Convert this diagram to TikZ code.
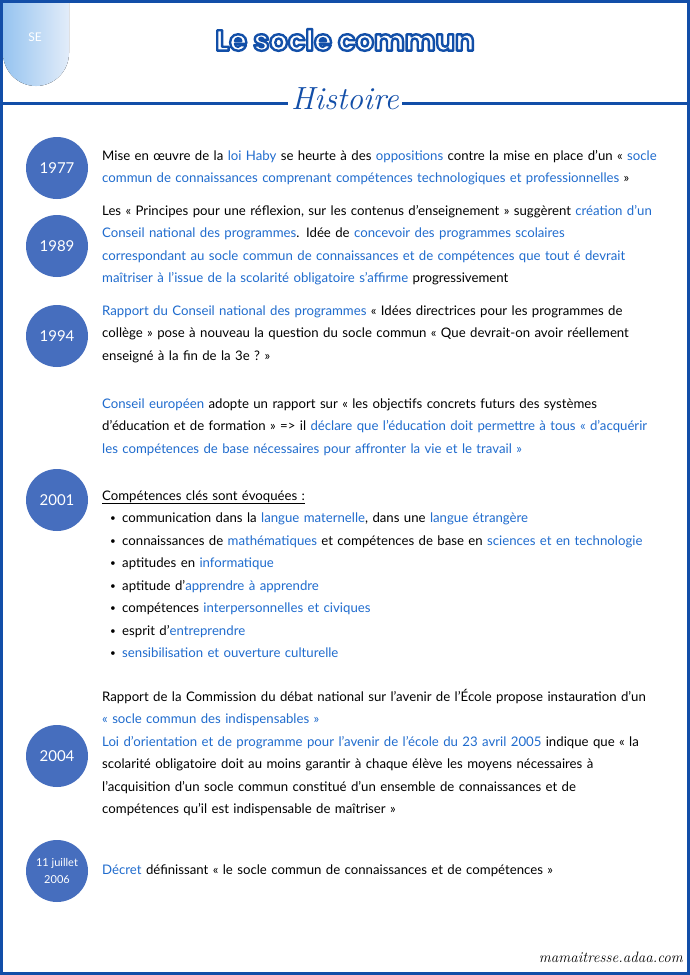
\documentclass[tikz,border=0pt]{standalone}
\usepackage[T1]{fontenc}
\usepackage{fontspec}
\usepackage{xcolor}
\setmainfont{Lato}
\newfontfamily\titrefont{Poppins}
\usetikzlibrary{positioning,backgrounds}
\definecolor{cadre}{RGB}{18,78,168}
\definecolor{cercle}{RGB}{70,110,190}
\definecolor{motbleu}{RGB}{32,108,206}
\definecolor{ongletA}{RGB}{150,196,240}
\definecolor{ongletB}{RGB}{226,236,249}
\newcommand\bleu[1]{\textcolor{motbleu}{#1}}
\newcommand\scripte{\fontfamily{lmr}\fontshape{it}\selectfont}
\newcommand\puce{\hspace*{8pt}\makebox[12pt][l]{\raisebox{0.6pt}{\scalebox{0.75}{\textbullet}}}}
% texte blanc cerne de bleu
\newcommand\cerne[1]{\textcolor{white}{\special{pdf:literal direct 2 Tr 2.4 w 1 j 0.07 0.31 0.66 RG}#1\special{pdf:literal direct 0 Tr}}}
\tikzset{
    annee/.style={
        circle,
        fill=cercle,
        minimum size=62pt,
        inner sep=0pt,
        text=white,
        align=center,
        font=\fontsize{15}{17}\selectfont
    },
    para/.style={
        anchor=base west,
        text width=585pt,
        align=left,
        inner sep=0pt,
        font=\fontsize{13.2}{22.5}\selectfont
    }
}

\begin{document}
\begin{tikzpicture}[x=1pt,y=-1pt]
\useasboundingbox (0,0) rectangle (690,975);
\fill[white] (0,0) rectangle (690,975);

% onglet SE
\fill[left color=ongletA, right color=ongletB] (3,0) [rounded corners=33pt] -- (3,86) -- (69,86) [sharp corners] -- (69,0) -- cycle;
\node[text=white, font=\fontsize{12}{12}\selectfont] (se) at (35,37) {SE};

% cadre
\draw[cadre, line width=3pt] (1.5,1.5) rectangle (688.5,973.5);

% titre
\node[font=\titrefont\bfseries\fontsize{29}{32}\selectfont] (titre) at (345,40) {\cerne{Le socle commun}};
\node[font=\scripte\fontsize{32}{34}\selectfont, text=cadre, inner sep=3pt] (histoire) at (345,99) {Histoire};
\coordinate (hg) at (0,103);
\coordinate (hd) at (690,103);
\draw[cadre, line width=3pt] (hg) -- (histoire.west |- hg);
\draw[cadre, line width=3pt] (histoire.east |- hd) -- (hd);

% annees
\node[annee] (y1977) at (57,168) {1977};
\node[annee] (y1989) at (57,246) {1989};
\node[annee] (y1994) at (57,336) {1994};
\node[annee] (y2001) at (57,500) {2001};
\node[annee] (y2004) at (57,756) {2004};
\node[annee, font=\fontsize{11}{17}\selectfont] (y2006) at (57,871) {11 juillet\\2006};

\begin{pgfonlayer}{background}
\draw[black, line width=3.5pt] (y1977.center) -- (y2006.center);
\end{pgfonlayer}

% textes
\node[para] (t1977) at (102,160) {Mise en œuvre de la \bleu{loi Haby} se heurte à des \bleu{oppositions} contre la mise en place d'un «~\bleu{socle}\\
\bleu{commun de connaissances comprenant compétences technologiques et professionnelles}~»};

\node[para] (t1989) at (102,215) {Les «~Principes pour une réflexion, sur les contenus d’enseignement~» suggèrent \bleu{création d'un}\\
\bleu{Conseil national des programmes}. Idée de \bleu{concevoir des programmes scolaires}\\
\bleu{correspondant au socle commun de connaissances et de compétences que tout é devrait}\\
\bleu{maîtriser à l'issue de la scolarité obligatoire s'affirme} progressivement};

\node[para] (t1994) at (102,315) {\bleu{Rapport du Conseil national des programmes} «~Idées directrices pour les programmes de\\
collège~» pose à nouveau la question du socle commun «~Que devrait-on avoir réellement\\
enseigné à la fin de la 3e~?~»};

\node[para] (tconseil) at (102,408) {\bleu{Conseil européen} adopte un rapport sur «~les objectifs concrets futurs des systèmes\\
d'éducation et de formation~» => il \bleu{déclare que l'éducation doit permettre à tous «~d'acquérir}\\
\bleu{les compétences de base nécessaires pour affronter la vie et le travail~»}};

\node[para] (t2001) at (102,500) {\underline{Compétences clés sont évoquées :}\\
\puce communication dans la \bleu{langue maternelle}, dans une \bleu{langue étrangère}\\
\puce connaissances de \bleu{mathématiques} et compétences de base en \bleu{sciences et en technologie}\\
\puce aptitudes en \bleu{informatique}\\
\puce aptitude d'\bleu{apprendre à apprendre}\\
\puce compétences \bleu{interpersonnelles et civiques}\\
\puce esprit d'\bleu{entreprendre}\\
\puce \bleu{sensibilisation et ouverture culturelle}};

\node[para] (t2004) at (102,701) {Rapport de la Commission du débat national sur l'avenir de l'École propose instauration d'un\\
\bleu{«~socle commun des indispensables~»}\\
\bleu{Loi d’orientation et de programme pour l'avenir de l'école du 23 avril 2005} indique que «~la\\
scolarité obligatoire doit au moins garantir à chaque élève les moyens nécessaires à\\
l'acquisition d'un socle commun constitué d'un ensemble de connaissances et de\\
compétences qu'il est indispensable de maîtriser~»};

\node[para] (t2006) at (102,874) {\bleu{Décret} définissant «~le socle commun de connaissances et de compétences~»};

% pied de page
\node[anchor=base east, inner sep=0pt, font=\scripte\fontsize{15}{16}\selectfont] (site) at (683,962) {mamaitresse.adaa.com};
\end{tikzpicture}
\end{document}
